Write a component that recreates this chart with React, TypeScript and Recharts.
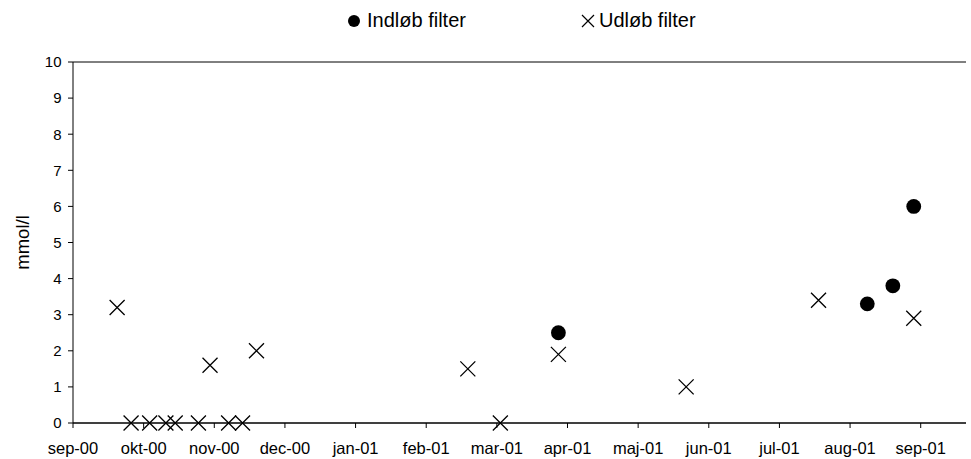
import React from "react";
import {
  ScatterChart,
  Scatter,
  XAxis,
  YAxis,
  CartesianGrid,
  Legend,
} from "recharts";

// x = days counted from the "sep-00" tick, y = mmol/l
const monthLabels = [
  "sep-00", "okt-00", "nov-00", "dec-00", "jan-01", "feb-01", "mar-01",
  "apr-01", "maj-01", "jun-01", "jul-01", "aug-01", "sep-01",
];
const yTicks = [0, 1, 2, 3, 4, 5, 6, 7, 8, 9, 10];

const indlobDays = [209, 342, 353, 362];
const indlobValues = [2.5, 3.3, 3.8, 6.0];

const udlobDays = [19, 25, 33, 40, 44, 54, 59, 67, 73, 79, 170, 184, 209, 264, 321, 362];
const udlobValues = [3.2, 0, 0, 0, 0, 0, 1.6, 0, 0, 2.0, 1.5, 0, 1.9, 1.0, 3.4, 2.9];

const MONTH = 365 / 12;
const monthTicks = monthLabels.map((_, i) => i * MONTH);
const indlob = indlobDays.map((x, i) => ({ x, y: indlobValues[i] }));
const udlob = udlobDays.map((x, i) => ({ x, y: udlobValues[i] }));

const FONT = '"Liberation Sans", Arial, sans-serif';

const Dot = (props: any) => <circle cx={props.cx} cy={props.cy} r={7.4} fill="#000" />;

const Cross = (props: any) => {
  const { cx, cy } = props;
  const s = 7.5;
  return (
    <path
      d={`M${cx - s},${cy - s}L${cx + s},${cy + s}M${cx - s},${cy + s}L${cx + s},${cy - s}`}
      stroke="#000"
      strokeWidth={1.3}
      fill="none"
    />
  );
};

function LegendBox() {
  return (
    <div
      style={{
        display: "flex",
        alignItems: "center",
        gap: 115,
        paddingLeft: 348,
        fontFamily: FONT,
        fontSize: 20,
        color: "#000",
      }}
    >
      <div style={{ display: "flex", alignItems: "center", gap: 7 }}>
        <svg width={12} height={12}>
          <circle cx={6} cy={6} r={6} fill="#000" />
        </svg>
        <span>Indløb filter</span>
      </div>
      <div style={{ display: "flex", alignItems: "center", gap: 4 }}>
        <svg width={14} height={14}>
          <path d="M1,1L13,13M1,13L13,1" stroke="#000" strokeWidth={1.2} />
        </svg>
        <span>Udløb filter</span>
      </div>
    </div>
  );
}

export default function App() {
  return (
    <div style={{ position: "absolute", left: 0, top: 0, width: 971, height: 459, background: "#fff" }}>
      <ScatterChart
        width={971}
        height={459}
        margin={{ top: 62, right: 5, bottom: 6, left: 0 }}
        style={{ fontFamily: FONT }}
      >
        <CartesianGrid horizontal vertical={false} stroke="#000" />
        <XAxis
          type="number"
          dataKey="x"
          domain={[0, 384.5]}
          ticks={monthTicks}
          interval={0}
          allowDataOverflow
          height={30}
          tickSize={5}
          tickMargin={14}
          tickFormatter={(v: number) => monthLabels[Math.round(v / MONTH)]}
          tick={{ fontSize: 16.5, fill: "#000" }}
          stroke="#000"
        />
        <YAxis
          yAxisId="left"
          type="number"
          dataKey="y"
          domain={[0, 10]}
          ticks={yTicks}
          interval={0}
          width={73}
          tickSize={5}
          tickMargin={6.5}
          tick={{ fontSize: 15, fill: "#000" }}
          stroke="#000"
          label={{
            value: "mmol/l",
            angle: -90,
            position: "center",
            dx: -14,
            style: { fontSize: 18.5, fill: "#000", fontFamily: FONT },
          }}
        />
        <YAxis
          yAxisId="right"
          orientation="right"
          type="number"
          domain={[0, 10]}
          width={0}
          tick={false}
          tickLine={false}
          stroke="#000"
        />
        <Legend
          layout="horizontal"
          verticalAlign="middle"
          align="center"
          content={() => <LegendBox />}
          wrapperStyle={{ top: 9, left: 0, width: 971 }}
        />
        <Scatter
          name="Indløb filter"
          yAxisId="left"
          data={indlob}
          shape={Dot}
          isAnimationActive={false}
        />
        <Scatter
          name="Udløb filter"
          yAxisId="left"
          data={udlob}
          shape={Cross}
          isAnimationActive={false}
        />
      </ScatterChart>
    </div>
  );
}
